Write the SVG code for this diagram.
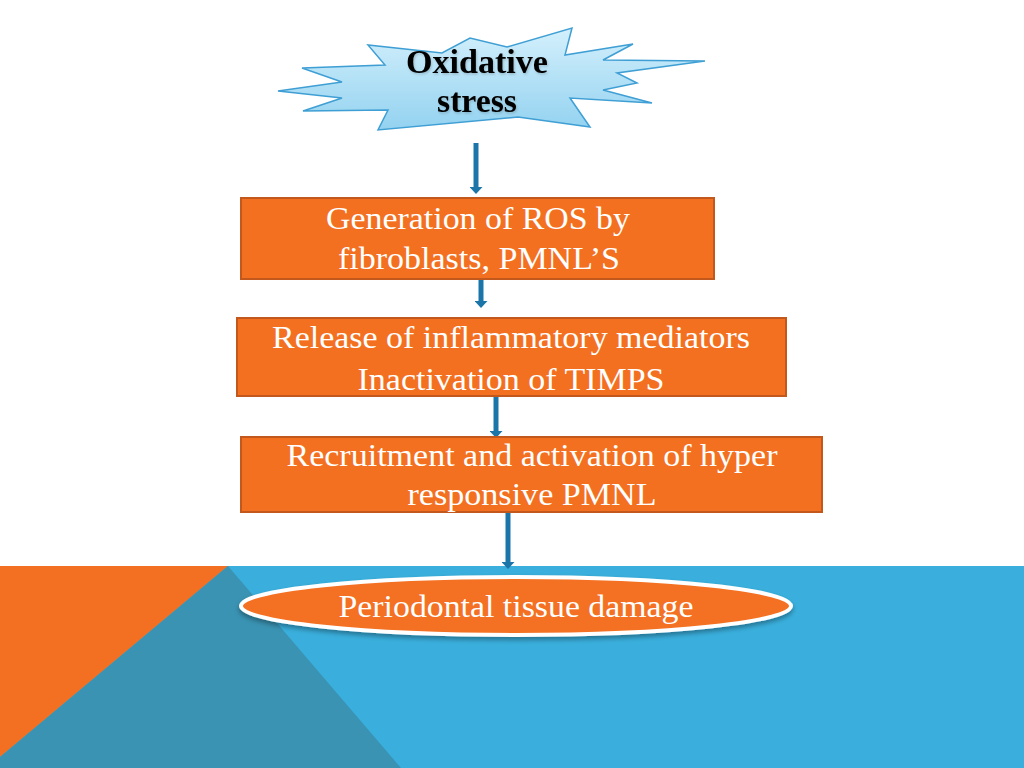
<svg xmlns="http://www.w3.org/2000/svg" width="1024" height="768" viewBox="0 0 1024 768">
<defs>
<linearGradient id="starFill" x1="0" y1="0" x2="0" y2="1">
<stop offset="0" stop-color="#d4f0fc"/>
<stop offset="1" stop-color="#93d2f0"/>
</linearGradient>
<marker id="ah" viewBox="0 0 10 10" refX="0" refY="5" markerWidth="7" markerHeight="13" markerUnits="userSpaceOnUse" orient="auto" preserveAspectRatio="none">
<path d="M0,0 L10,5 L0,10 Z" fill="#1b75a8"/>
</marker>
<filter id="sh" x="-10%" y="-30%" width="120%" height="170%">
<feDropShadow dx="0" dy="3" stdDeviation="2.5" flood-color="#000" flood-opacity="0.35"/>
</filter>
<filter id="tsh" x="-10%" y="-30%" width="120%" height="160%">
<feDropShadow dx="1" dy="1.5" stdDeviation="1" flood-color="#000" flood-opacity="0.18"/>
</filter>
</defs>
<style>
.box{fill:#f47021;stroke:#c2581c;stroke-width:2}
.wt{font-family:"Liberation Serif","Times New Roman",serif;font-size:31px;fill:#ffffff;text-anchor:middle}
.bt{font-family:"Liberation Serif","Times New Roman",serif;font-size:33px;font-weight:bold;fill:#000000;text-anchor:middle}
.arr{stroke:#1b75a8;stroke-width:5;fill:none;marker-end:url(#ah)}
</style>
<rect x="0" y="0" width="1024" height="768" fill="#ffffff"/>
<g id="background">
<rect x="0" y="566" width="1024" height="202" fill="#3aafdd"/>
<polygon points="0,566 228,566 0,757" fill="#f36f21"/>
<polygon points="228,566 401,768 0,768 0,757" fill="#3a93b3"/>
</g>
<g id="oxidative-stress">
<polygon points="278,91 342,82 302,68 385,65 368,45 442,53 470,38 507,47 572,28 565,55 633,44 603,60 705,61 617,73 637,83 603,90 652,103 570,98 590,127 518,117 378,130 388,110 303,111 342,98" fill="url(#starFill)" stroke="#3f9fd4" stroke-width="1.5" stroke-linejoin="miter"/>
<text class="bt" x="477" y="73" textLength="142" lengthAdjust="spacingAndGlyphs" filter="url(#tsh)">Oxidative</text>
<text class="bt" x="477" y="112" textLength="80" lengthAdjust="spacingAndGlyphs" filter="url(#tsh)">stress</text>
</g>
<g id="connectors">
<line class="arr" x1="476" y1="143" x2="476" y2="187"/>
<line class="arr" x1="481" y1="280" x2="481" y2="301"/>
<line class="arr" x1="496" y1="397" x2="496" y2="431"/>
<line class="arr" x1="508" y1="512" x2="508" y2="562"/>
</g>
<g id="generation-ros">
<rect class="box" x="241" y="198" width="473" height="81"/>
<text class="wt" x="478" y="229" textLength="304" lengthAdjust="spacingAndGlyphs">Generation of ROS by</text>
<text class="wt" x="479" y="269" textLength="282" lengthAdjust="spacingAndGlyphs">fibroblasts, PMNL’S</text>
</g>
<g id="release-mediators">
<rect class="box" x="237" y="318" width="549" height="78"/>
<text class="wt" x="511" y="348" textLength="478" lengthAdjust="spacingAndGlyphs">Release of inflammatory mediators</text>
<text class="wt" x="511" y="390" textLength="307" lengthAdjust="spacingAndGlyphs">Inactivation of TIMPS</text>
</g>
<g id="recruitment-pmnl">
<rect class="box" x="241" y="437" width="581" height="75"/>
<text class="wt" x="532" y="466" textLength="491" lengthAdjust="spacingAndGlyphs">Recruitment and activation of hyper</text>
<text class="wt" x="532" y="505" textLength="249" lengthAdjust="spacingAndGlyphs">responsive PMNL</text>
</g>
<g id="periodontal-damage">
<ellipse cx="516" cy="606" rx="275" ry="29" fill="#f47021" stroke="#ffffff" stroke-width="4" filter="url(#sh)"/>
<text class="wt" x="516" y="617" textLength="355" lengthAdjust="spacingAndGlyphs">Periodontal tissue damage</text>
</g>
</svg>
